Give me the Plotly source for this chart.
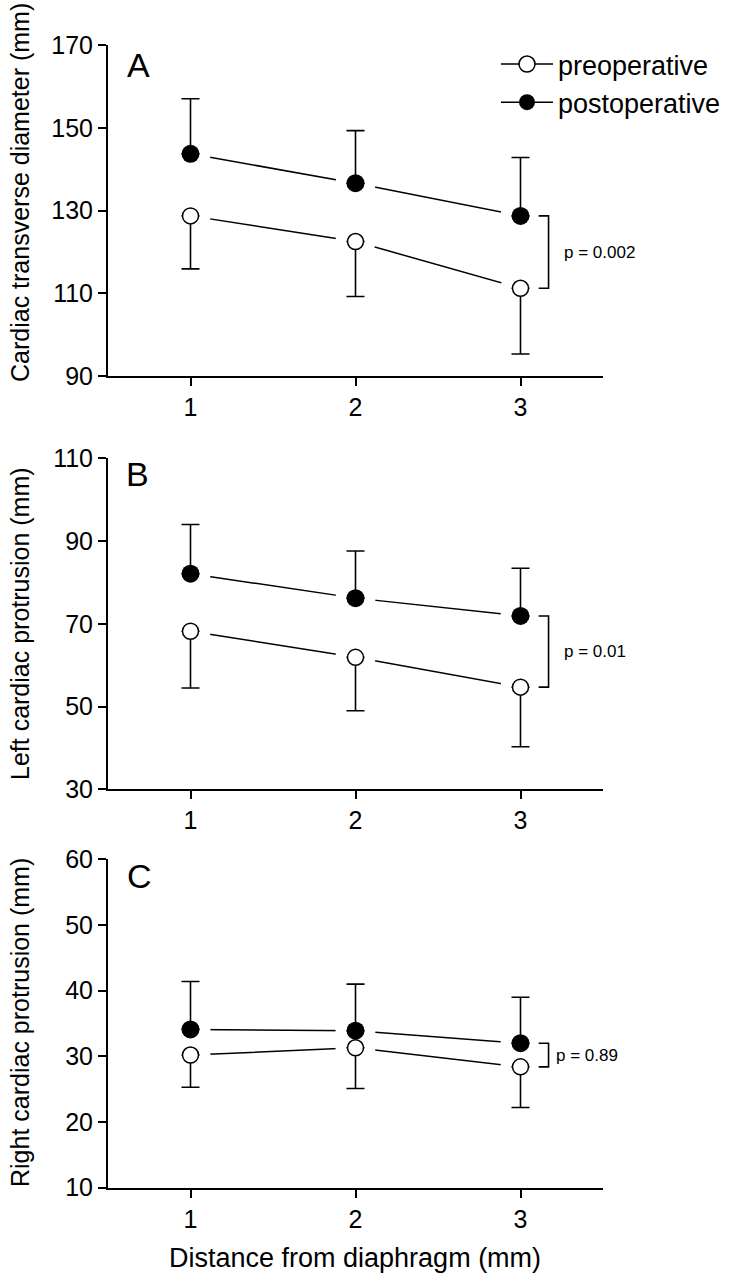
import plotly.graph_objects as go

# ---------------- data ----------------
distance = [1, 2, 3]

A_pre = [128.7, 122.5, 111.2]
A_pre_sd = [12.8, 13.3, 15.9]
A_post = [143.7, 136.6, 128.7]
A_post_sd = [13.3, 12.7, 14.1]

B_pre = [68.2, 61.9, 54.7]
B_pre_sd = [13.7, 12.9, 14.4]
B_post = [82.1, 76.2, 71.9]
B_post_sd = [11.9, 11.4, 11.5]

C_pre = [30.2, 31.3, 28.4]
C_pre_sd = [4.9, 6.2, 6.2]
C_post = [34.1, 33.9, 32.0]
C_post_sd = [7.3, 7.1, 7.0]

panel_letters = ["A", "B", "C"]
y_titles = ["Cardiac transverse diameter (mm)",
            "Left cardiac protrusion (mm)",
            "Right cardiac protrusion (mm)"]
y_ranges = [[90, 170], [30, 110], [10, 60]]
y_ticks = [[90, 110, 130, 150, 170], [30, 50, 70, 90, 110], [10, 20, 30, 40, 50, 60]]
p_labels = ["p = 0.002", "p = 0.01", "p = 0.89"]
x_title = "Distance from diaphragm (mm)"
series_names = ["preoperative", "postoperative"]

panels = [
    (A_pre, A_pre_sd, A_post, A_post_sd),
    (B_pre, B_pre_sd, B_post, B_post_sd),
    (C_pre, C_pre_sd, C_post, C_post_sd),
]

# ---------------- layout geometry (pixels) ----------------
W, H = 732, 1279
FONT = "Arial, Liberation Sans, sans-serif"
x_px = (108, 603)
y_px = [(45, 376), (458.2, 789.4), (859.3, 1187.7)]
ytitle_center = [193, 624, 1023]
letter_center = [(138.5, 65), (137.5, 474), (139, 876)]
p_x = [3.25, 3.25, 3.2]


def px(x):
    return x / W


def py(y):
    return 1 - y / H


fig = go.Figure()
layout_axes = {}
annotations = []

for i, (pre, pre_sd, post, post_sd) in enumerate(panels):
    n = "" if i == 0 else str(i + 1)
    xa, ya = "x" + n, "y" + n
    first = (i == 0)

    # connecting lines (also provide legend entries)
    fig.add_trace(go.Scatter(
        x=distance, y=pre, xaxis=xa, yaxis=ya, mode="lines+markers",
        name=series_names[0], showlegend=first, legendgroup="pre",
        line=dict(color="black", width=1.5),
        marker=dict(symbol="circle", size=16, color="white",
                    line=dict(color="black", width=1.5)),
        hoverinfo="skip"))
    fig.add_trace(go.Scatter(
        x=distance, y=post, xaxis=xa, yaxis=ya, mode="lines+markers",
        name=series_names[1], showlegend=first, legendgroup="post",
        line=dict(color="black", width=1.5),
        marker=dict(symbol="circle", size=18, color="black",
                    line=dict(color="black", width=0)),
        hoverinfo="skip"))

    # white halos to create the gap between line and symbol
    for vals in (pre, post):
        fig.add_trace(go.Scatter(
            x=distance, y=vals, xaxis=xa, yaxis=ya, mode="markers",
            showlegend=False, hoverinfo="skip",
            marker=dict(symbol="circle", size=40, color="white",
                        line=dict(width=0))))

    # symbols with one-sided error bars
    fig.add_trace(go.Scatter(
        x=distance, y=pre, xaxis=xa, yaxis=ya, mode="markers",
        showlegend=False, hoverinfo="skip",
        marker=dict(symbol="circle", size=16, color="white",
                    line=dict(color="black", width=1.5)),
        error_y=dict(type="data", symmetric=False,
                     array=[0] * len(pre), arrayminus=pre_sd,
                     color="black", thickness=1.6, width=9)))
    fig.add_trace(go.Scatter(
        x=distance, y=post, xaxis=xa, yaxis=ya, mode="markers",
        showlegend=False, hoverinfo="skip",
        marker=dict(symbol="circle", size=18, color="black",
                    line=dict(width=0)),
        error_y=dict(type="data", symmetric=False,
                     array=post_sd, arrayminus=[0] * len(post),
                     color="black", thickness=1.6, width=9)))

    # significance bracket at the last distance
    bx0, bx1 = distance[-1] + 0.11, distance[-1] + 0.17
    fig.add_trace(go.Scatter(
        x=[bx0, bx1, bx1, bx0], y=[post[-1], post[-1], pre[-1], pre[-1]],
        xaxis=xa, yaxis=ya, mode="lines", showlegend=False, hoverinfo="skip",
        line=dict(color="black", width=1.6)))
    annotations.append(dict(
        x=p_x[i], y=(post[-1] + pre[-1]) / 2, xref=xa, yref=ya,
        text=p_labels[i], showarrow=False, xanchor="left", yanchor="middle",
        font=dict(family=FONT, size=17, color="black")))

    # axes
    layout_axes["xaxis" + n] = dict(
        domain=[px(x_px[0]), px(x_px[1])], anchor=ya, range=[0.5, 3.5],
        tickmode="array", tickvals=distance, ticktext=[str(d) for d in distance],
        showline=True, linecolor="black", linewidth=2,
        ticks="outside", ticklen=8, tickwidth=2, tickcolor="black",
        showgrid=False, zeroline=False,
        tickfont=dict(family=FONT, size=25, color="black"))
    layout_axes["yaxis" + n] = dict(
        domain=[py(y_px[i][1]), py(y_px[i][0])], anchor=xa, range=y_ranges[i],
        tickmode="array", tickvals=y_ticks[i],
        showline=True, linecolor="black", linewidth=2,
        ticks="outside", ticklen=8, tickwidth=2, tickcolor="black",
        showgrid=False, zeroline=False, automargin=False,
        tickfont=dict(family=FONT, size=25, color="black"))

    # y-axis title
    annotations.append(dict(
        x=px(20), y=py(ytitle_center[i]), xref="paper", yref="paper",
        text=y_titles[i], textangle=-90, showarrow=False,
        xanchor="center", yanchor="middle",
        font=dict(family=FONT, size=25, color="black")))
    # panel letter
    annotations.append(dict(
        x=px(letter_center[i][0]), y=py(letter_center[i][1]),
        xref="paper", yref="paper", text=panel_letters[i], showarrow=False,
        xanchor="center", yanchor="middle",
        font=dict(family=FONT, size=34, color="black")))

annotations.append(dict(
    x=px(355), y=py(1258), xref="paper", yref="paper", text=x_title,
    showarrow=False, xanchor="center", yanchor="middle",
    font=dict(family=FONT, size=27, color="black")))

fig.update_layout(
    width=W, height=H,
    margin=dict(l=0, r=0, t=0, b=0),
    paper_bgcolor="white", plot_bgcolor="white",
    showlegend=True,
    legend=dict(x=px(496), y=py(40), xanchor="left", yanchor="top",
                bgcolor="rgba(0,0,0,0)", borderwidth=0,
                itemwidth=52, traceorder="normal",
                font=dict(family=FONT, size=27, color="black")),
    annotations=annotations,
    hovermode=False,
    **layout_axes)

fig.write_html("out.html",
               config={"displayModeBar": False},
               post_script="document.body.style.margin='0';"
                           "document.body.style.padding='0';")
